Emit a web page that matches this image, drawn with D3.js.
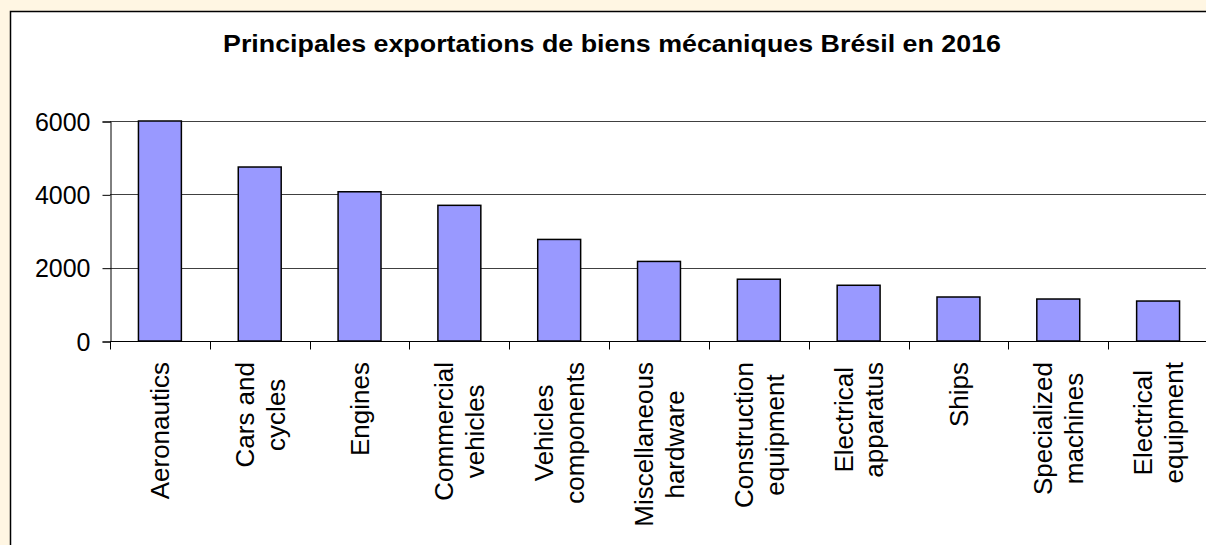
<!DOCTYPE html>
<html>
<head>
<meta charset="utf-8">
<script src="https://cdn.jsdelivr.net/npm/d3@7"></script>
<style>
  html, body { margin: 0; padding: 0; background: #fff6e3; overflow: hidden; }
  text { font-family: "Liberation Sans", Arial, sans-serif; fill: #000; }
</style>
</head>
<body>
<div id="chart"></div>
<script>
// chart data
const title = 'Principales exportations de biens mécaniques Brésil en 2016';
const categories = [
    ['Aeronautics'],
    ['Cars and', 'cycles'],
    ['Engines'],
    ['Commercial', 'vehicles'],
    ['Vehicles', 'components'],
    ['Miscellaneous', 'hardware'],
    ['Construction', 'equipment'],
    ['Electrical', 'apparatus'],
    ['Ships'],
    ['Specialized', 'machines'],
    ['Electrical', 'equipment']
];
const values = [6000, 4745, 4070, 3700, 2770, 2170, 1685, 1520, 1200, 1145, 1090];
const yTicks = [0, 2000, 4000, 6000];

const W = 1206, H = 545;
const margin = { top: 121, left: 110, right: -2, bottom: 204 };

const svg = d3
    .select('#chart')
    .append('svg')
    .attr('width', W)
    .attr('height', H);

// white panel with border (runs off right and bottom edges)
svg.append('rect')
    .attr('x', 10.5)
    .attr('y', 11.5)
    .attr('width', W + 20)
    .attr('height', H + 20)
    .attr('fill', '#fff')
    .attr('stroke', '#000')
    .attr('stroke-width', 1.5);

svg.append('text')
    .attr('x', 612)
    .attr('y', 52)
    .attr('text-anchor', 'middle')
    .attr('textLength', 778)
    .attr('lengthAdjust', 'spacingAndGlyphs')
    .style('font-size', '24px')
    .style('font-weight', 'bold')
    .text(title);

const names = categories.map(d => d.join(' '));

const xScale = d3
    .scaleBand()
    .domain(names)
    .range([margin.left, W - margin.right])
    .paddingInner(0.57)
    .paddingOuter(0.285);

const yScale = d3
    .scaleLinear()
    .domain([0, 6000])
    .range([H - margin.bottom, margin.top]);

// gridlines
svg.append('g')
    .selectAll('line')
    .data(yTicks.filter(d => d > 0))
    .enter()
    .append('line')
    .attr('x1', margin.left)
    .attr('x2', W)
    .attr('y1', d => Math.round(yScale(d)) + 0.5)
    .attr('y2', d => Math.round(yScale(d)) + 0.5)
    .attr('stroke', '#404040')
    .attr('stroke-width', 1);

// y axis
const yAxis = svg.append('g')
    .attr('transform', `translate(${margin.left + 0.5}, 0.5)`)
    .call(d3.axisLeft(yScale).tickValues(yTicks).tickSize(8).tickPadding(12).tickFormat(d3.format('d')));
yAxis.select('.domain').attr('stroke', '#000');
yAxis.selectAll('.tick line').attr('stroke', '#000');
yAxis.selectAll('.tick text')
    .style('font-size', '25px')
    .attr('dy', '0.35em')
    .style('font-family', '"Liberation Sans", Arial, sans-serif');

// bars
svg.selectAll('.bar')
    .data(values)
    .enter()
    .append('rect')
    .attr('class', 'bar')
    .attr('x', (d, i) => xScale(names[i]))
    .attr('y', d => yScale(d))
    .attr('width', xScale.bandwidth())
    .attr('height', d => yScale(0) - yScale(d))
    .attr('fill', '#9999ff')
    .attr('stroke', '#000')
    .attr('stroke-width', 1.5);

// x axis line and boundary ticks
const y0 = Math.round(yScale(0)) + 0.5;
svg.append('line')
    .attr('x1', margin.left)
    .attr('x2', W)
    .attr('y1', y0)
    .attr('y2', y0)
    .attr('stroke', '#000');
svg.append('g')
    .selectAll('line')
    .data(d3.range(names.length + 1))
    .enter()
    .append('line')
    .attr('x1', i => Math.round(margin.left + i * xScale.step()) + 0.5)
    .attr('x2', i => Math.round(margin.left + i * xScale.step()) + 0.5)
    .attr('y1', y0)
    .attr('y2', y0 + 8)
    .attr('stroke', '#000');

// rotated category labels, block top-aligned, lines centred
const lineH = 31;
const labels = svg.append('g')
    .selectAll('g')
    .data(categories)
    .enter()
    .append('g');
labels.each(function (lines, i) {
    const g = d3.select(this);
    const cx = xScale(names[i]) + xScale.bandwidth() / 2;
    const t = g.append('text')
        .attr('text-anchor', 'middle')
        .style('font-size', '26px');
    lines.forEach((l, j) => {
        t.append('tspan')
            .attr('x', 0)
            .attr('y', (j - (lines.length - 1) / 2) * lineH)
            .attr('dy', '0.36em')
            .text(l);
    });
    let maxW = 0;
    t.selectAll('tspan').each(function () {
        maxW = Math.max(maxW, this.getComputedTextLength());
    });
    g.attr('transform', `translate(${cx}, ${362 + maxW / 2}) rotate(-90)`);
});
</script>
</body>
</html>
